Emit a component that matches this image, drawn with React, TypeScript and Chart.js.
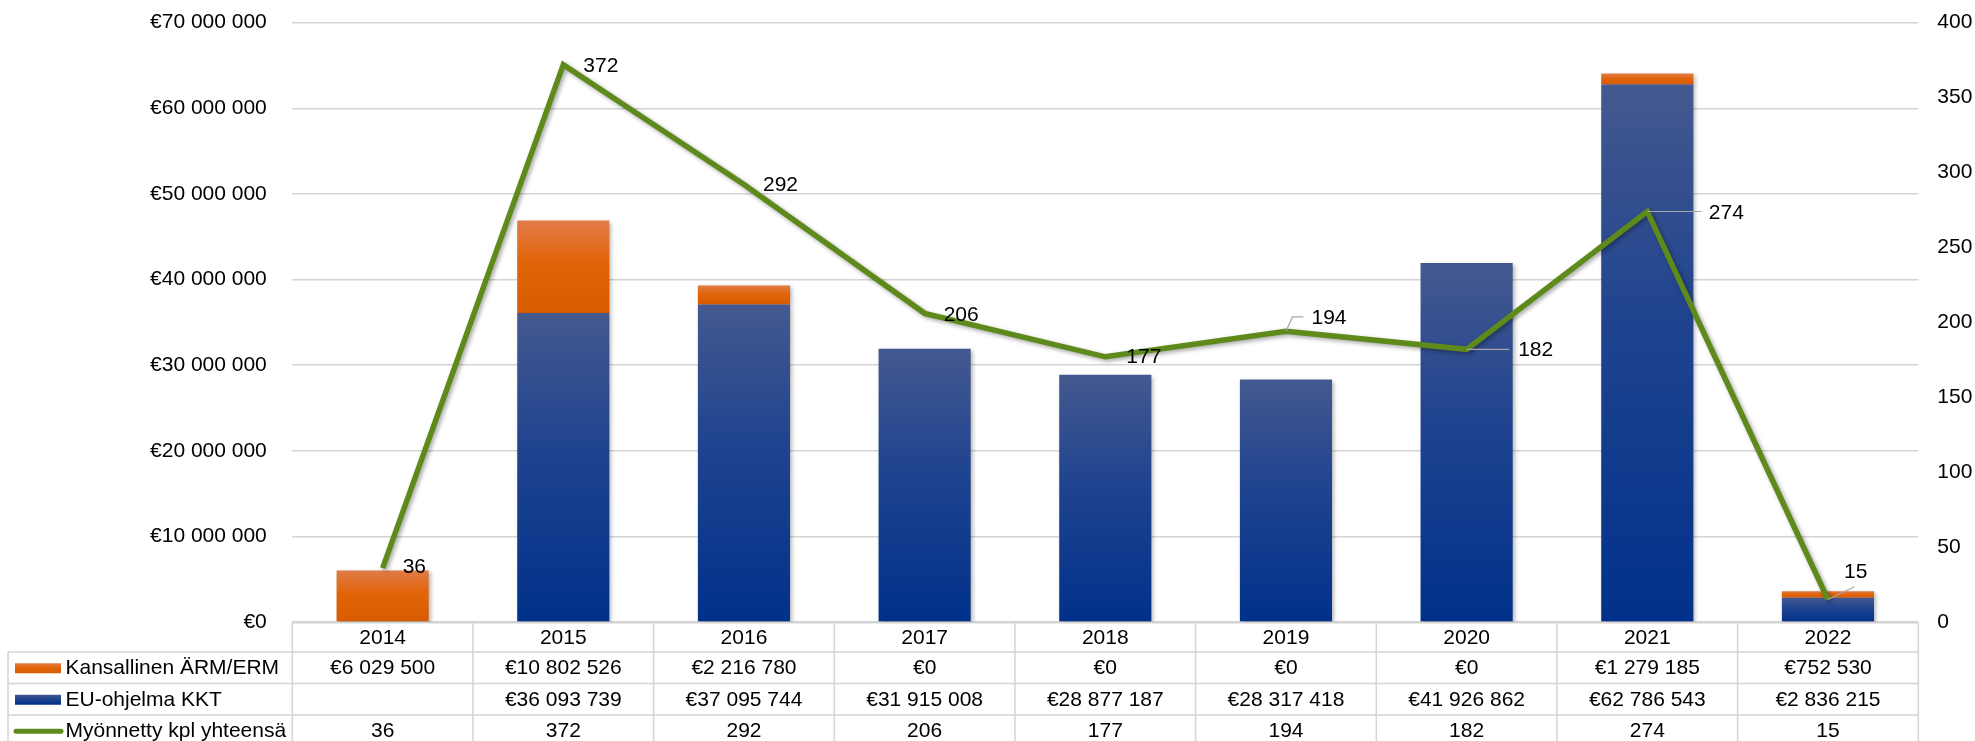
import React, { useEffect, useRef } from 'react';
import { Chart, registerables } from 'chart.js';

Chart.register(...registerables);

// ---- data ----
const categories = ['2014', '2015', '2016', '2017', '2018', '2019', '2020', '2021', '2022'];
const kansallinen: (number | null)[] = [6029500, 10802526, 2216780, 0, 0, 0, 0, 1279185, 752530];
const euOhjelma: (number | null)[] = [null, 36093739, 37095744, 31915008, 28877187, 28317418, 41926862, 62786543, 2836215];
const myonnetty: number[] = [36, 372, 292, 206, 177, 194, 182, 274, 15];
const seriesNames = ['Kansallinen ÄRM/ERM', 'EU-ohjelma KKT', 'Myönnetty kpl yhteensä'];
const leftAxis = { min: 0, max: 70000000, step: 10000000 };
const rightAxis = { min: 0, max: 400, step: 50 };

// ---- label placement (styling, relative to point) ----
const labelPlacement: { dx: number; dy: number; leader?: [number, number][] }[] = [
  { dx: 20, dy: -1 },
  { dx: 20, dy: 2 },
  { dx: 19, dy: 1 },
  { dx: 19, dy: 2 },
  { dx: 21, dy: 0 },
  { dx: 25.5, dy: -13.5, leader: [[0, 0], [6.5, -14.4], [17.5, -14.4]] },
  { dx: 51.5, dy: 0.5, leader: [[0, 0], [42.5, 0]] },
  { dx: 61.5, dy: 2, leader: [[0, 0], [54, 0]] },
  { dx: 16, dy: -27.5, leader: [[0, 0], [26.5, -12.7]] },
];

const FONT = "'Liberation Sans', Arial, sans-serif";
const FONT_SIZE = 21;
const GRID = '#d4d4d4';
const ORANGE_STOPS: [number, string][] = [[0, '#e27c48'], [0.45, '#e16409'], [1, '#d95b00']];
const BLUE_STOPS: [number, string][] = [[0, '#44598f'], [0.45, '#1f438f'], [1, '#00318a']];
const GREEN = '#5e8a1b';

const fmtEuro = (v: number) => '€' + Math.round(v).toString().replace(/\B(?=(\d{3})+(?!\d))/g, ' ');

function barGradient(c: any, stops: [number, string][], isOrange: boolean) {
  const chart = c.chart;
  const solid = stops[1][1];
  if (!chart.chartArea || c.type !== 'data' || c.dataIndex === undefined) return solid;
  const y = chart.scales.y;
  const i = c.dataIndex;
  const base = isOrange ? (euOhjelma[i] || 0) : 0;
  const val = (isOrange ? kansallinen[i] : euOhjelma[i]) || 0;
  const y0 = y.getPixelForValue(base + val);
  const y1 = y.getPixelForValue(base);
  if (y1 - y0 < 1) return solid;
  const g = chart.ctx.createLinearGradient(0, y0, 0, y1);
  stops.forEach(([o, col]) => g.addColorStop(o, col));
  return g;
}

const shadowPlugin = {
  id: 'shadows',
  beforeDatasetDraw(chart: any, args: any) {
    const ctx = chart.ctx;
    ctx.save();
    const isLine = args.meta.type === 'line';
    ctx.shadowColor = isLine ? 'rgba(0,0,0,0.35)' : 'rgba(0,0,0,0.28)';
    ctx.shadowBlur = 4;
    ctx.shadowOffsetX = 2;
    ctx.shadowOffsetY = 2;
  },
  afterDatasetDraw(chart: any) {
    chart.ctx.restore();
  },
};

const lineLabelPlugin = {
  id: 'lineLabels',
  afterDatasetsDraw(chart: any) {
    const ctx = chart.ctx;
    const meta = chart.getDatasetMeta(2);
    ctx.save();
    ctx.font = `${FONT_SIZE}px ${FONT}`;
    ctx.fillStyle = '#000';
    ctx.textAlign = 'left';
    ctx.textBaseline = 'middle';
    meta.data.forEach((pt: any, i: number) => {
      const p = labelPlacement[i];
      if (p.leader) {
        ctx.strokeStyle = '#a6a6a6';
        ctx.lineWidth = 1.2;
        ctx.beginPath();
        p.leader.forEach(([lx, ly], k) => {
          if (k === 0) ctx.moveTo(pt.x + lx, pt.y + ly);
          else ctx.lineTo(pt.x + lx, pt.y + ly);
        });
        ctx.stroke();
      }
      ctx.fillText(String(myonnetty[i]), pt.x + p.dx, pt.y + p.dy);
    });
    ctx.restore();
  },
};

const tablePlugin = {
  id: 'dataTable',
  afterDraw(chart: any) {
    const ctx = chart.ctx;
    const { left, right, bottom } = chart.chartArea;
    const n = categories.length;
    const w = (right - left) / n;
    const rows = [bottom + 0.7, 652, 683.5, 715, 746.5];
    const tableLeft = 8;
    ctx.save();
    ctx.strokeStyle = GRID;
    ctx.lineWidth = 1.5;
    ctx.beginPath();
    ctx.moveTo(left, rows[0]);
    ctx.lineTo(right, rows[0]);
    for (let r = 1; r < rows.length; r++) {
      ctx.moveTo(tableLeft, rows[r]);
      ctx.lineTo(right, rows[r]);
    }
    for (let k = 0; k <= n; k++) {
      const x = left + k * w;
      ctx.moveTo(x, rows[0]);
      ctx.lineTo(x, rows[4]);
    }
    ctx.moveTo(tableLeft, rows[1]);
    ctx.lineTo(tableLeft, rows[4]);
    ctx.stroke();

    const rowC = (r: number) => (rows[r] + rows[r + 1]) / 2 + 0.5;
    ctx.font = `${FONT_SIZE}px ${FONT}`;
    ctx.fillStyle = '#000';
    ctx.textBaseline = 'middle';
    ctx.textAlign = 'center';
    for (let i = 0; i < n; i++) {
      const cx = left + (i + 0.5) * w;
      ctx.fillText(categories[i], cx, rowC(0));
      const k = kansallinen[i];
      if (k !== null) ctx.fillText(fmtEuro(k), cx, rowC(1));
      const e = euOhjelma[i];
      if (e !== null) ctx.fillText(fmtEuro(e), cx, rowC(2));
      ctx.fillText(String(myonnetty[i]), cx, rowC(3));
    }
    const swX = 15, swW = 46, swH = 10;
    const mkGrad = (y0: number, stops: [number, string][]) => {
      const g = ctx.createLinearGradient(0, y0, 0, y0 + swH);
      stops.forEach(([o, col]) => g.addColorStop(o, col));
      return g;
    };
    const y1 = rowC(1) - swH / 2;
    ctx.fillStyle = mkGrad(y1, ORANGE_STOPS);
    ctx.fillRect(swX, y1, swW, swH);
    const y2 = rowC(2) - swH / 2;
    ctx.fillStyle = mkGrad(y2, BLUE_STOPS);
    ctx.fillRect(swX, y2, swW, swH);
    ctx.strokeStyle = GREEN;
    ctx.lineWidth = 5;
    ctx.lineCap = 'round';
    ctx.beginPath();
    ctx.moveTo(16, rowC(3));
    ctx.lineTo(61, rowC(3));
    ctx.stroke();

    ctx.fillStyle = '#000';
    ctx.textAlign = 'left';
    ctx.fillText(seriesNames[0], 65.5, rowC(1));
    ctx.fillText(seriesNames[1], 65.5, rowC(2));
    ctx.fillText(seriesNames[2], 65.5, rowC(3));
    ctx.restore();
  },
};

export default function App() {
  const ref = useRef<HTMLCanvasElement | null>(null);

  useEffect(() => {
    document.body.style.margin = '0';
    if (!ref.current) return;
    const chart = new Chart(ref.current, {
      type: 'bar',
      data: {
        labels: categories,
        datasets: [
          {
            type: 'bar',
            label: seriesNames[1],
            data: euOhjelma as any,
            yAxisID: 'y',
            stack: 's',
            order: 2,
            backgroundColor: (c: any) => barGradient(c, BLUE_STOPS, false),
            borderWidth: 0,
            barPercentage: 0.51,
            categoryPercentage: 1,
          },
          {
            type: 'bar',
            label: seriesNames[0],
            data: kansallinen as any,
            yAxisID: 'y',
            stack: 's',
            order: 2,
            backgroundColor: (c: any) => barGradient(c, ORANGE_STOPS, true),
            borderWidth: 0,
            barPercentage: 0.51,
            categoryPercentage: 1,
          },
          {
            type: 'line',
            label: seriesNames[2],
            data: myonnetty,
            yAxisID: 'y1',
            order: 1,
            borderColor: GREEN,
            borderWidth: 5.5,
            pointRadius: 0,
            tension: 0,
            fill: false,
            borderJoinStyle: 'miter',
          } as any,
        ],
      },
      options: {
        responsive: false,
        animation: false,
        events: [],
        layout: { padding: { top: 22.7, bottom: 119, left: 0, right: 0 } },
        plugins: {
          legend: { display: false },
          tooltip: { enabled: false },
          title: { display: false },
        },
        scales: {
          x: {
            display: false,
            stacked: true,
            offset: true,
          },
          y: {
            position: 'left',
            stacked: true,
            min: leftAxis.min,
            max: leftAxis.max,
            border: { display: false },
            grid: { color: GRID, lineWidth: 1.5, drawTicks: false },
            ticks: {
              stepSize: leftAxis.step,
              padding: 25.5,
              color: '#000',
              font: { family: FONT, size: FONT_SIZE },
              callback: (v: any) => fmtEuro(Number(v)),
            },
            afterFit: (s: any) => {
              s.width = 292.3;
              s.paddingTop = 0;
              s.paddingBottom = 0;
            },
          },
          y1: {
            position: 'right',
            min: rightAxis.min,
            max: rightAxis.max,
            border: { display: false },
            grid: { display: false, drawTicks: false },
            ticks: {
              stepSize: rightAxis.step,
              padding: 19,
              color: '#000',
              font: { family: FONT, size: FONT_SIZE },
            },
            afterFit: (s: any) => {
              s.width = 1975 - 1918.3;
              s.paddingTop = 0;
              s.paddingBottom = 0;
            },
          },
        },
      },
      plugins: [shadowPlugin, lineLabelPlugin, tablePlugin],
    });
    return () => chart.destroy();
  }, []);

  return (
    <div style={{ position: 'absolute', left: 0, top: 0, width: 1975, height: 741 }}>
      <canvas ref={ref} width={1975} height={741} style={{ width: 1975, height: 741, display: 'block' }} />
    </div>
  );
}
